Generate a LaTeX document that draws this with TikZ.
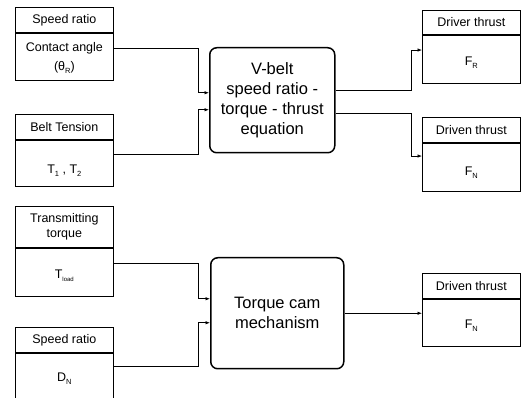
\documentclass[tikz,border=0pt]{standalone}
\usepackage{fontspec}
\setmainfont{Liberation Sans}
\usetikzlibrary{arrows.meta}

% lowered small index, as in T_1 or F_N
\newcommand\lowidx[1]{\raisebox{-0.45ex}{\fontsize{7.5}{7.5}\selectfont #1}}

\tikzset{
  boxline/.style={draw=black, line width=0.7pt},
  headbox/.style={boxline, rectangle, minimum width=98pt, inner sep=0pt,
    anchor=north west, align=center, font=\fontsize{12.5}{15}\selectfont},
  bodybox/.style={boxline, rectangle, minimum width=98pt, inner sep=0pt,
    anchor=north},
  bodytext/.style={inner sep=0pt, align=center,
    font=\fontsize{12.5}{19}\selectfont},
  mainbox/.style={draw=black, line width=1.5pt, rounded corners=7pt,
    rectangle, inner sep=0pt, anchor=north west, align=center,
    font=\fontsize{16.5}{20}\selectfont},
  link/.style={draw=black, line width=0.7pt,
    -{Latex[length=4.5pt,width=3.5pt]}},
}

\begin{document}
\begin{tikzpicture}[x=1pt,y=-1pt]
\useasboundingbox (0,0) rectangle (523,398);

% ---- inputs, left column
\node[headbox, minimum height=25pt] (L1h) at (15,7) {Speed ratio};
\node[bodybox, minimum height=47pt] (L1b) at (L1h.south) {};
\node[bodytext] (L1t) at ([yshift=-1pt]L1b.center) {Contact angle\\(θ\lowidx{R})};

\node[headbox, minimum height=25pt] (L2h) at (15,114) {Belt Tension};
\node[bodybox, minimum height=46pt] (L2b) at (L2h.south) {};
\node[bodytext] (L2t) at ([yshift=-8pt]L2b.center) {T\lowidx{1} , T\lowidx{2}};

\node[headbox, minimum height=41pt] (L3h) at (15,206) {Transmitting\\torque};
\node[bodybox, minimum height=48pt] (L3b) at (L3h.south) {};
\node[bodytext] (L3t) at ([yshift=-4pt]L3b.center) {T\lowidx{\fontsize{6}{6}\selectfont load}};

\node[headbox, minimum height=25pt] (L4h) at (15,327) {Speed ratio};
\node[bodybox, minimum height=45pt] (L4b) at (L4h.south) {};
\node[bodytext] (L4t) at ([yshift=-3.5pt]L4b.center) {D\lowidx{N}};

% ---- processing blocks
\node[mainbox, minimum width=125pt, minimum height=105pt] (M1) at (209,47)
  {V-belt\\speed ratio -\\torque - thrust\\equation};
\node[mainbox, minimum width=133pt, minimum height=111pt] (M2) at (210,257)
  {Torque cam\\mechanism};

% ---- outputs, right column
\node[headbox, minimum height=24pt] (R1h) at (422,10) {Driver thrust};
\node[bodybox, minimum height=48pt] (R1b) at (R1h.south) {};
\node[bodytext] (R1t) at ([yshift=-4pt]R1b.center) {F\lowidx{R}};

\node[headbox, minimum height=25pt] (R2h) at (422,117) {Driven thrust};
\node[bodybox, minimum height=48pt] (R2b) at (R2h.south) {};
\node[bodytext] (R2t) at ([yshift=-6pt]R2b.center) {F\lowidx{N}};

\node[headbox, minimum height=25pt] (R3h) at (422,273) {Driven thrust};
\node[bodybox, minimum height=47pt] (R3b) at (R3h.south) {};
\node[bodytext] (R3t) at ([yshift=-3.5pt]R3b.center) {F\lowidx{N}};

% ---- connectors into the V-belt block
\draw[link] ([yshift=8.5pt]L1b.east) -| ([xshift=-11pt,yshift=7.5pt]M1.west) -- ([yshift=7.5pt]M1.west);
\draw[link] ([yshift=9pt]L2b.east) -| ([xshift=-11pt,yshift=-9.5pt]M1.west) -- ([yshift=-9.5pt]M1.west);

% ---- connectors into the torque cam block
\draw[link] ([yshift=9pt]L3b.east) -| ([xshift=-12pt,yshift=14.5pt]M2.west) -- ([yshift=14.5pt]M2.west);
\draw[link] ([yshift=9.5pt]L4b.east) -| ([xshift=-12pt,yshift=-9.5pt]M2.west) -- ([yshift=-9.5pt]M2.west);

% ---- connectors out to the thrust boxes
\draw[link] ([yshift=9.5pt]M1.east) -| ([xshift=-11pt,yshift=9pt]R1b.west) -- ([yshift=9pt]R1b.west);
\draw[link] ([yshift=-13.5pt]M1.east) -| ([xshift=-11pt,yshift=11pt]R2b.west) -- ([yshift=11pt]R2b.west);
\draw[link] (M2.east) -- (M2.east -| R3b.west);
\end{tikzpicture}
\end{document}
